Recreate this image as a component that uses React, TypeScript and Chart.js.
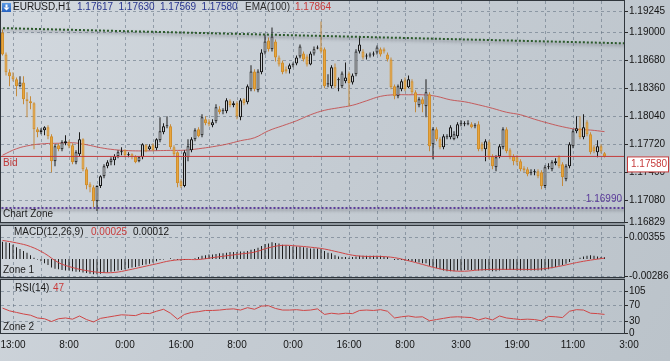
import React, { useEffect, useRef } from "react";
import { Chart, registerables } from "chart.js";
Chart.register(...registerables);

const FONT = '"Liberation Sans", Arial, sans-serif';

// ---- price data (EURUSD H1), one entry per bar ----
const OPEN = [
  1.19000,1.18748,1.18543,1.18497,1.18463,1.18383,1.18428,1.18234,1.18211,1.18188,
  1.17891,1.17857,1.17880,1.17914,1.17811,1.17525,1.17708,1.17663,1.17731,1.17742,
  1.17708,1.17514,1.17605,1.17777,1.17434,1.17262,1.17228,1.17068,1.17240,1.17354,
  1.17468,1.17514,1.17537,1.17582,1.17628,1.17651,1.17594,1.17605,1.17582,1.17525,
  1.17571,1.17708,1.17663,1.17708,1.17674,1.17765,1.17857,1.17925,1.17925,1.17685,
  1.17628,1.17297,1.17240,1.17571,1.17651,1.17777,1.17891,1.17822,1.18005,1.17971,
  1.17937,1.17983,1.18120,1.18097,1.18097,1.18211,1.18165,1.18188,1.18028,1.18234,
  1.18200,1.18348,1.18554,1.18337,1.18543,1.18771,1.18908,1.18806,1.18897,1.18714,
  1.18657,1.18577,1.18577,1.18623,1.18645,1.18725,1.18760,1.18725,1.18634,1.18760,
  1.18817,1.18828,1.18806,1.18405,1.18383,1.18600,1.18451,1.18383,1.18440,1.18531,
  1.18428,1.18520,1.18783,1.18783,1.18725,1.18737,1.18748,1.18771,1.18806,1.18806,
  1.18748,1.18691,1.18383,1.18268,1.18348,1.18451,1.18371,1.18440,1.18314,1.18165,
  1.18234,1.18154,1.18291,1.17720,1.17891,1.17777,1.17685,1.17800,1.17800,1.17777,
  1.17811,1.17948,1.17948,1.17948,1.17948,1.17925,1.17948,1.17720,1.17663,1.17742,
  1.17582,1.17457,1.17582,1.17685,1.17891,1.17651,1.17582,1.17571,1.17525,1.17445,
  1.17434,1.17388,1.17400,1.17411,1.17400,1.17240,1.17457,1.17434,1.17502,1.17571,
  1.17491,1.17320,1.17468,1.17697,1.17868,1.17903,1.17800,1.17971,1.17834,1.17685,
  1.17628,1.17697,1.17617
];
const HIGH = [
  1.19034,1.18771,1.18577,1.18543,1.18485,1.18497,1.18497,1.18314,1.18268,1.18200,
  1.17914,1.17903,1.17925,1.17937,1.17834,1.17720,1.17731,1.17765,1.17822,1.17765,
  1.17731,1.17651,1.17857,1.17788,1.17457,1.17285,1.17251,1.17251,1.17365,1.17491,
  1.17537,1.17571,1.17605,1.17651,1.17685,1.17663,1.17628,1.17617,1.17594,1.17582,
  1.17731,1.17720,1.17720,1.17731,1.17788,1.18028,1.17960,1.18040,1.17948,1.17708,
  1.17640,1.17320,1.17651,1.17777,1.17800,1.17903,1.17914,1.18063,1.18040,1.18005,
  1.18005,1.18177,1.18154,1.18131,1.18245,1.18234,1.18211,1.18211,1.18245,1.18245,
  1.18405,1.18623,1.18577,1.18577,1.18806,1.18977,1.18943,1.19057,1.18920,1.18737,
  1.18680,1.18611,1.18645,1.18657,1.18737,1.18863,1.18783,1.18748,1.18783,1.18840,
  1.18851,1.19126,1.18828,1.18520,1.18623,1.18645,1.18485,1.18554,1.18657,1.18554,
  1.18531,1.18806,1.18954,1.18806,1.18760,1.18771,1.18783,1.18851,1.18828,1.18828,
  1.18771,1.18714,1.18405,1.18405,1.18463,1.18485,1.18508,1.18463,1.18337,1.18257,
  1.18257,1.18463,1.18314,1.17914,1.17914,1.17800,1.17834,1.17834,1.17937,1.17868,
  1.17971,1.17994,1.17983,1.17994,1.17971,1.17960,1.17983,1.17742,1.17777,1.17765,
  1.17605,1.17594,1.17720,1.17914,1.17914,1.17674,1.17605,1.17594,1.17548,1.17468,
  1.17457,1.17434,1.17434,1.17434,1.17422,1.17480,1.17502,1.17537,1.17560,1.17594,
  1.17514,1.17491,1.17742,1.17891,1.18040,1.18040,1.18063,1.17994,1.17857,1.17708,
  1.17765,1.17720,1.17630
];
const LOW = [
  1.18737,1.18508,1.18383,1.18440,1.18268,1.18371,1.18177,1.18028,1.18120,1.17663,
  1.17800,1.17834,1.17822,1.17777,1.17400,1.17468,1.17640,1.17640,1.17708,1.17674,
  1.17491,1.17491,1.17582,1.17411,1.17205,1.17171,1.17000,1.16954,1.17217,1.17331,
  1.17445,1.17480,1.17480,1.17560,1.17594,1.17571,1.17571,1.17548,1.17502,1.17514,
  1.17548,1.17628,1.17651,1.17640,1.17651,1.17742,1.17834,1.17903,1.17663,1.17582,
  1.17228,1.17217,1.17228,1.17525,1.17628,1.17754,1.17800,1.17800,1.17937,1.17925,
  1.17914,1.17960,1.18063,1.18063,1.18074,1.18143,1.18143,1.18005,1.17994,1.18165,
  1.18177,1.18325,1.18325,1.18314,1.18520,1.18748,1.18783,1.18783,1.18668,1.18611,
  1.18520,1.18531,1.18531,1.18600,1.18623,1.18703,1.18668,1.18611,1.18623,1.18737,
  1.18806,1.18760,1.18360,1.18371,1.18360,1.18360,1.18325,1.18360,1.18417,1.18154,
  1.18405,1.18497,1.18760,1.18691,1.18691,1.18714,1.18725,1.18748,1.18725,1.18760,
  1.18668,1.18348,1.18234,1.18245,1.18325,1.18325,1.18360,1.18291,1.18085,1.18143,
  1.18085,1.18028,1.17640,1.17548,1.17754,1.17663,1.17663,1.17777,1.17777,1.17765,
  1.17788,1.17925,1.17925,1.17937,1.17903,1.17903,1.17640,1.17640,1.17525,1.17548,
  1.17434,1.17411,1.17560,1.17663,1.17617,1.17548,1.17480,1.17480,1.17411,1.17400,
  1.17354,1.17365,1.17365,1.17331,1.17205,1.17217,1.17434,1.17411,1.17480,1.17445,
  1.17240,1.17297,1.17445,1.17674,1.17845,1.17777,1.17777,1.17811,1.17605,1.17617,
  1.17571,1.17617,1.17569
];
const CLOSE = [
  1.18748,1.18543,1.18497,1.18463,1.18383,1.18428,1.18234,1.18211,1.18188,1.17891,
  1.17857,1.17880,1.17914,1.17811,1.17525,1.17697,1.17663,1.17742,1.17754,1.17697,
  1.17514,1.17628,1.17777,1.17434,1.17251,1.17228,1.17068,1.17240,1.17354,1.17468,
  1.17514,1.17548,1.17582,1.17628,1.17640,1.17594,1.17605,1.17571,1.17514,1.17571,
  1.17720,1.17640,1.17697,1.17651,1.17777,1.17868,1.17925,1.17937,1.17685,1.17605,
  1.17274,1.17240,1.17628,1.17697,1.17777,1.17880,1.17811,1.18028,1.17960,1.17948,
  1.17971,1.18143,1.18085,1.18108,1.18223,1.18165,1.18188,1.18040,1.18223,1.18188,
  1.18383,1.18554,1.18348,1.18554,1.18771,1.18897,1.18806,1.18954,1.18714,1.18634,
  1.18543,1.18554,1.18623,1.18634,1.18714,1.18840,1.18691,1.18634,1.18760,1.18806,
  1.18828,1.18783,1.18383,1.18417,1.18600,1.18383,1.18463,1.18531,1.18485,1.18417,
  1.18508,1.18783,1.18863,1.18714,1.18737,1.18748,1.18752,1.18828,1.18748,1.18783,
  1.18691,1.18371,1.18268,1.18383,1.18440,1.18348,1.18463,1.18314,1.18200,1.18234,
  1.18177,1.18314,1.17697,1.17891,1.17777,1.17685,1.17811,1.17811,1.17914,1.17834,
  1.17948,1.17960,1.17954,1.17960,1.17914,1.17931,1.17663,1.17663,1.17754,1.17571,
  1.17468,1.17571,1.17697,1.17891,1.17640,1.17571,1.17525,1.17514,1.17434,1.17422,
  1.17377,1.17400,1.17405,1.17354,1.17240,1.17457,1.17468,1.17514,1.17525,1.17468,
  1.17342,1.17468,1.17720,1.17868,1.17903,1.17800,1.17914,1.17834,1.17628,1.17640,
  1.17697,1.17640,1.17580
];

// EMA(100), read every EMA_STEP bars
const EMA_STEP = 4;
const EMA = [
  1.17594,1.17668,1.17708,1.17726,1.17731,1.17737,1.17714,1.17680,1.17657,1.17646,
  1.17643,1.17646,1.17649,1.17651,1.17668,1.17691,1.17720,1.17760,1.17794,1.17874,
  1.17931,1.17988,1.18057,1.18108,1.18137,1.18166,1.18217,1.18268,1.18286,1.18286,
  1.18286,1.18268,1.18228,1.18206,1.18171,1.18131,1.18086,1.18057,1.18006,1.17960,
  1.17920,1.17891,1.17882,1.17864
];

// MACD(12,26,9) main histogram, one per bar
const MACD_HIST = [
  0.0028,0.0027,0.0026,0.0023,0.0019,0.0016,0.0013,0.0010,0.0006,0.0002,
  -0.0001,-0.0004,-0.0007,-0.0010,-0.0014,-0.0016,-0.0017,-0.0018,-0.0019,-0.0019,
  -0.0020,-0.0021,-0.0021,-0.0022,-0.0023,-0.0024,-0.0025,-0.0025,-0.0024,-0.0023,
  -0.0022,-0.0021,-0.0020,-0.0019,-0.0018,-0.0017,-0.0015,-0.0014,-0.0013,-0.0012,
  -0.0010,-0.0009,-0.0008,-0.0006,-0.0004,-0.0002,-0.0001,0.0000,0.0001,-0.0001,
  -0.0002,-0.0003,-0.0002,-0.0001,0.0000,0.0001,0.0003,0.0005,0.0006,0.0007,
  0.0007,0.0008,0.0009,0.0009,0.0010,0.0011,0.0011,0.0011,0.0012,0.0012,
  0.0013,0.0015,0.0016,0.0018,0.0021,0.0024,0.0025,0.0027,0.0026,0.0025,
  0.0023,0.0022,0.0021,0.0020,0.0020,0.0020,0.0019,0.0018,0.0017,0.0017,
  0.0017,0.0016,0.0013,0.0010,0.0009,0.0006,0.0004,0.0003,0.0003,0.0002,
  0.0003,0.0004,0.0005,0.0005,0.0005,0.0005,0.0005,0.0005,0.0005,0.0004,
  0.0003,0.0000,-0.0002,-0.0002,-0.0002,-0.0003,-0.0003,-0.0004,-0.0005,-0.0006,
  -0.0007,-0.0007,-0.0011,-0.0013,-0.0015,-0.0017,-0.0019,-0.0020,-0.0020,-0.0020,
  -0.0019,-0.0019,-0.0018,-0.0018,-0.0018,-0.0018,-0.0019,-0.0019,-0.0019,-0.0019,
  -0.0020,-0.0020,-0.0019,-0.0018,-0.0018,-0.0018,-0.0018,-0.0019,-0.0019,-0.0019,
  -0.0019,-0.0019,-0.0019,-0.0019,-0.0019,-0.0018,-0.0017,-0.0015,-0.0013,-0.0011,
  -0.0010,-0.0008,-0.0005,-0.0002,0.0000,0.0002,0.0004,0.0005,0.0006,0.0005,
  0.0004,0.0003,0.00025
];
// MACD signal line, read every SIGNAL_STEP bars
const SIGNAL_STEP = 4;
const MACD_SIGNAL = [
  0.0030,0.0026,0.0020,0.0009,-0.0006,-0.0014,-0.0019,-0.0022,-0.0022,-0.0018,
  -0.0013,-0.0008,-0.0003,-0.0001,-0.0001,0.0002,0.0005,0.0008,0.0011,0.0018,
  0.0022,0.0021,0.0019,0.0016,0.0011,0.0006,0.0004,0.0004,0.0002,-0.0003,
  -0.0009,-0.0015,-0.0019,-0.0020,-0.0018,-0.0017,-0.0017,-0.0017,-0.0017,-0.0015,
  -0.0011,-0.0006,-0.0002,0.00012
];

// RSI(14), read every RSI_STEP bars
const RSI_STEP = 2;
const RSI = [
  63,56,52,48,45,38,36,29,36,38,
  35,43,34,28,37,40,43,46,45,44,
  50,49,55,60,50,35,47,52,54,57,
  57,58,60,61,58,64,60,68,69,62,
  58,58,59,57,58,61,47,50,48,50,
  49,57,58,57,59,55,38,41,43,40,
  41,31,34,37,40,41,40,39,33,38,
  33,43,38,36,34,35,34,31,42,41,
  39,55,59,58,50,49,47
];

// axis labels
const TIME_LABELS = ["13:00","8:00","0:00","16:00","8:00","0:00","16:00","8:00","3:00","19:00","11:00","3:00"];
const TIME_LABEL_FIRST = 3;
const TIME_LABEL_EVERY = 16;
const GRID_EVERY = 8;
const PRICE_TICKS = [1.19245, 1.19000, 1.18680, 1.18360, 1.18040, 1.17720, 1.17400, 1.17080, 1.16829];
const MACD_TICKS = [0.00355, -0.00286];
const RSI_TICKS = [105, 70, 30, 0];

// chart objects
const BID = 1.17580;
const ZONE_LEVEL = 1.16990;
const TREND = [ { x: -1, y: 1.19050 }, { x: 178, y: 1.18875 } ];
const SYMBOL = "EURUSD,H1";

// view
const X_MIN = -0.4286;
const X_MAX = 177.571;
const PRICE_MIN = 1.16829, PRICE_MAX = 1.19360;
const MACD_MIN = -0.00294, MACD_MAX = 0.00534;
const RSI_MIN = 0, RSI_MAX = 134;

const GRID_COLOR = "rgba(95,110,125,0.55)";
const FRAME = "#30363c";

const noPad = (s: any) => { s.paddingTop = 0; s.paddingBottom = 0; s.paddingLeft = 0; s.paddingRight = 0; };

function xScale(h: number) {
  return {
    type: "linear", min: X_MIN, max: X_MAX, offset: false,
    afterBuildTicks: (s: any) => {
      const t: any[] = [];
      for (let v = TIME_LABEL_FIRST; v <= X_MAX; v += GRID_EVERY) t.push({ value: v });
      s.ticks = t;
    },
    afterFit: (s: any) => { s.height = h; noPad(s); },
    ticks: { display: false },
    grid: { display: true, drawOnChartArea: true, drawTicks: false, color: GRID_COLOR, offset: false, lineWidth: 1 },
    border: { display: false, dash: [3, 3] },
  };
}
function yScale(min: number, max: number, ticks: number[], fmt: (v: number) => string) {
  return {
    type: "linear", position: "right", min, max,
    afterBuildTicks: (s: any) => { s.ticks = ticks.map((v) => ({ value: v })); },
    afterFit: (s: any) => { s.width = 46; noPad(s); },
    ticks: { autoSkip: false, color: "#141414", font: { family: FONT, size: 10 }, padding: 1, callback: (v: any) => fmt(Number(v)) },
    grid: { color: GRID_COLOR, drawTicks: true, tickLength: 4, tickColor: "#2a2a2a", tickBorderDash: [], tickWidth: 1 },
    border: { display: false, dash: [3, 3] },
  };
}

const shadowPlugin = {
  id: "lineShadow",
  beforeDatasetDraw(chart: any, args: any) {
    const ds = chart.data.datasets[args.index];
    if (ds.label === "trend" || ds.label === "zone") {
      const ctx = chart.ctx;
      ctx.save();
      ctx.shadowColor = "rgba(35,35,45,0.5)";
      ctx.shadowBlur = 3;
      ctx.shadowOffsetY = 2;
    }
  },
  afterDatasetDraw(chart: any, args: any) {
    const ds = chart.data.datasets[args.index];
    if (ds.label === "trend" || ds.label === "zone") chart.ctx.restore();
  },
};

function frame(ctx: CanvasRenderingContext2D, a: any) {
  ctx.strokeStyle = FRAME;
  ctx.lineWidth = 1;
  ctx.strokeRect(a.left - 0.5, a.top - 0.5, a.right - a.left + 1, a.bottom - a.top + 1);
}
function text(ctx: CanvasRenderingContext2D, s: string, x: number, y: number, color: string, align: CanvasTextAlign = "left") {
  ctx.fillStyle = color;
  ctx.textAlign = align;
  ctx.fillText(s, x, y);
}

const last = CLOSE.length - 1;
const bull = (i: number) => CLOSE[i] >= OPEN[i];

const mainOverlay = {
  id: "mainOverlay",
  afterDraw(chart: any) {
    const ctx = chart.ctx as CanvasRenderingContext2D;
    const a = chart.chartArea;
    const y = chart.scales.y;
    ctx.save();
    frame(ctx, a);
    ctx.fillStyle = "#8f979e";
    ctx.fillRect(0, a.bottom + 1, a.right + 1, 2);
    ctx.font = `10px ${FONT}`;
    ctx.textBaseline = "middle";
    // symbol icon
    const g = ctx.createLinearGradient(0, 3, 0, 12);
    g.addColorStop(0, "#5b9be6"); g.addColorStop(1, "#2662c0");
    ctx.fillStyle = g;
    ctx.fillRect(2, 3, 9, 9);
    ctx.fillStyle = "#ffffff";
    ctx.fillRect(5.5, 4.5, 2, 3);
    ctx.beginPath(); ctx.moveTo(3.5, 7.5); ctx.lineTo(9.5, 7.5); ctx.lineTo(6.5, 10.5); ctx.closePath(); ctx.fill();
    text(ctx, SYMBOL, 13, 7.5, "#1b1b1b");
    [OPEN, HIGH, LOW, CLOSE].forEach((arr, k) => text(ctx, arr[last].toFixed(5), 77 + k * 41.5, 7.5, "#27348e"));
    text(ctx, "EMA(100)", 245, 7.5, "#2e2e2e");
    text(ctx, EMA[EMA.length - 1].toFixed(5), 295, 7.5, "#c83a3a");
    // Bid
    const by = y.getPixelForValue(BID);
    text(ctx, "Bid", 3, by + 7, "#c03838");
    ctx.fillStyle = "#ffffff";
    ctx.fillRect(627.5, by + 0.5, 41, 15);
    ctx.strokeStyle = "#c63c3c";
    ctx.strokeRect(627.5, by + 0.5, 41, 15);
    text(ctx, BID.toFixed(5), 631, by + 8, "#c63c3c");
    // zone
    const zy = y.getPixelForValue(ZONE_LEVEL);
    text(ctx, "Chart Zone", 3, zy + 6.5, "#222222");
    text(ctx, ZONE_LEVEL.toFixed(5), 622, zy - 9, "#5a3a9a", "right");
    ctx.restore();
  },
};

const macdOverlay = {
  id: "macdOverlay",
  afterDraw(chart: any) {
    const ctx = chart.ctx as CanvasRenderingContext2D;
    const a = chart.chartArea;
    ctx.save();
    frame(ctx, a);
    ctx.fillStyle = "#8f979e";
    ctx.fillRect(0, a.bottom + 1, a.right + 1, 2);
    ctx.font = `10px ${FONT}`;
    ctx.textBaseline = "middle";
    text(ctx, "MACD(12,26,9)", 14, a.top + 6.5, "#1c1c1c");
    text(ctx, MACD_HIST[last].toFixed(5), 91, a.top + 6.5, "#c83a3a");
    text(ctx, MACD_SIGNAL[MACD_SIGNAL.length - 1].toFixed(5), 133, a.top + 6.5, "#141414");
    text(ctx, "Zone 1", 3, a.top + 44, "#222222");
    ctx.restore();
  },
};

const rsiOverlay = {
  id: "rsiOverlay",
  afterDraw(chart: any) {
    const ctx = chart.ctx as CanvasRenderingContext2D;
    const a = chart.chartArea;
    const x = chart.scales.x;
    ctx.save();
    frame(ctx, a);
    ctx.font = `10px ${FONT}`;
    ctx.textBaseline = "middle";
    text(ctx, "RSI(14)", 15, a.top + 8, "#1c1c1c");
    text(ctx, String(RSI[RSI.length - 1]), 53, a.top + 8, "#c83a3a");
    text(ctx, "Zone 2", 3, a.top + 47, "#222222");
    TIME_LABELS.forEach((lab, k) => {
      const px = x.getPixelForValue(TIME_LABEL_FIRST + k * TIME_LABEL_EVERY);
      text(ctx, lab, px, a.bottom + 12, "#141414", "center");
    });
    ctx.restore();
  },
};

const common = {
  responsive: false,
  maintainAspectRatio: false,
  animation: false,
  devicePixelRatio: 1,
  events: [],
  plugins: { legend: { display: false }, tooltip: { enabled: false } },
};

export default function App() {
  const mainRef = useRef<HTMLCanvasElement>(null);
  const macdRef = useRef<HTMLCanvasElement>(null);
  const rsiRef = useRef<HTMLCanvasElement>(null);

  useEffect(() => {
    document.body.style.margin = "0";
    const idx = CLOSE.map((_, i) => i);
    const charts: Chart[] = [];

    charts.push(new Chart(mainRef.current as HTMLCanvasElement, {
      type: "bar",
      data: {
        datasets: [
          { type: "line", label: "trend", data: TREND, borderColor: "#2b5a2b", borderWidth: 2, borderDash: [2, 2], pointRadius: 0, order: 0 } as any,
          { type: "line", label: "zone", data: [{ x: X_MIN - 1, y: ZONE_LEVEL }, { x: X_MAX + 1, y: ZONE_LEVEL }], borderColor: "#5c3d9a", borderWidth: 2, borderDash: [2, 2], pointRadius: 0, order: 0 } as any,
          { type: "line", label: "bid", data: [{ x: X_MIN - 1, y: BID }, { x: X_MAX + 1, y: BID }], borderColor: "#c43c3c", borderWidth: 1, pointRadius: 0, order: 0 } as any,
          {
            type: "bar", label: "bodies",
            data: idx.map((i) => ({ x: i, y: [OPEN[i], CLOSE[i]] })),
            backgroundColor: idx.map((i) => (bull(i) ? "#c9cdd1" : "#e8a53e")),
            borderColor: idx.map((i) => (bull(i) ? "#181818" : "#cf8f2e")),
            borderWidth: 1, borderSkipped: false, inflateAmount: 0, minBarLength: 1,
            barThickness: 3, grouped: false, order: 1,
          } as any,
          {
            type: "bar", label: "wicks",
            data: idx.map((i) => ({ x: i, y: [LOW[i], HIGH[i]] })),
            backgroundColor: idx.map((i) => (bull(i) ? "#1c1c1c" : "#c48a3c")),
            borderWidth: 0, inflateAmount: 0, barThickness: 1, grouped: false, order: 2,
          } as any,
          {
            type: "line", label: "ema",
            data: EMA.map((v, k) => ({ x: k * EMA_STEP, y: v })),
            borderColor: "rgba(196,72,72,0.85)", borderWidth: 1, pointRadius: 0, tension: 0.4, order: 3,
          } as any,
        ],
      },
      options: {
        ...common,
        layout: { padding: { left: 1, top: 1, right: 0, bottom: 10 } },
        scales: {
          x: xScale(0),
          y: yScale(PRICE_MIN, PRICE_MAX, PRICE_TICKS, (v) => v.toFixed(5)),
        },
      } as any,
      plugins: [shadowPlugin, mainOverlay],
    }));

    charts.push(new Chart(macdRef.current as HTMLCanvasElement, {
      type: "bar",
      data: {
        datasets: [
          {
            type: "line", label: "signal",
            data: MACD_SIGNAL.map((v, k) => ({ x: k * SIGNAL_STEP, y: v })),
            borderColor: "#cf4646", borderWidth: 1, pointRadius: 0, tension: 0.4, order: 0,
          } as any,
          {
            type: "bar", label: "macd",
            data: idx.map((i) => ({ x: i, y: MACD_HIST[i] })),
            backgroundColor: "#1e1e1e", borderWidth: 0, inflateAmount: 0, barThickness: 1, grouped: false, order: 1,
          } as any,
        ],
      },
      options: {
        ...common,
        layout: { padding: { left: 1, top: 4, right: 0, bottom: 5 } },
        scales: {
          x: xScale(0),
          y: yScale(MACD_MIN, MACD_MAX, MACD_TICKS, (v) => v.toFixed(5)),
        },
      } as any,
      plugins: [macdOverlay],
    }));

    charts.push(new Chart(rsiRef.current as HTMLCanvasElement, {
      type: "line",
      data: {
        datasets: [
          {
            label: "rsi",
            data: RSI.map((v, k) => ({ x: k * RSI_STEP, y: v })),
            borderColor: "#cf4646", borderWidth: 1, pointRadius: 0, tension: 0,
          } as any,
        ],
      },
      options: {
        ...common,
        layout: { padding: { left: 1, top: 4, right: 0, bottom: 0 } },
        scales: {
          x: xScale(28),
          y: yScale(RSI_MIN, RSI_MAX, RSI_TICKS, (v) => String(v)),
        },
      } as any,
      plugins: [rsiOverlay],
    }));

    return () => charts.forEach((c) => c.destroy());
  }, []);

  return (
    <div style={{ position: "absolute", left: 0, top: 0, width: 670, height: 361, overflow: "hidden",
      background: "linear-gradient(120deg, #d3d9df 0%, #c5ccd3 45%, #bbc3ca 100%)" }}>
      <canvas ref={mainRef} width={670} height={232} style={{ position: "absolute", left: 0, top: 0, width: 670, height: 232 }} />
      <canvas ref={macdRef} width={670} height={60} style={{ position: "absolute", left: 0, top: 222, width: 670, height: 60 }} />
      <canvas ref={rsiRef} width={670} height={85} style={{ position: "absolute", left: 0, top: 276, width: 670, height: 85 }} />
    </div>
  );
}
